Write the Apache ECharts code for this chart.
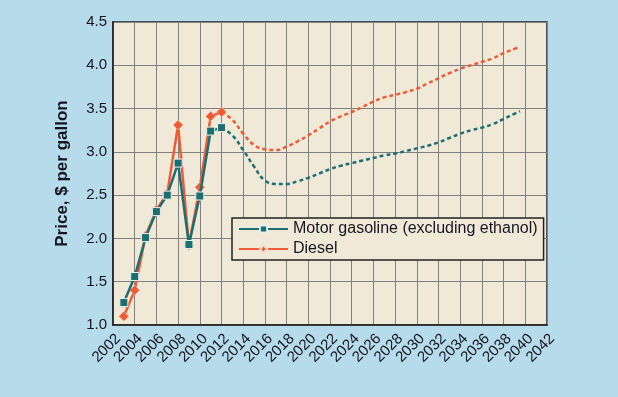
<!DOCTYPE html>
<html><head><meta charset="utf-8">
<script src="https://cdn.jsdelivr.net/npm/echarts@6/dist/echarts.min.js"></script>
<style>html,body{margin:0;padding:0;background:#b6dbea;}#c{width:618px;height:397px;}</style>
</head><body><div id="c"></div>
<script>
var histYears = [2003,2004,2005,2006,2007,2008,2009,2010,2011,2012];
var gasHist = [1.26,1.56,2.01,2.31,2.50,2.87,1.93,2.49,3.24,3.28];
var dieselHist = [1.10,1.40,2.03,2.33,2.52,3.31,1.92,2.59,3.41,3.46];
var projYears = [2012,2013,2014,2015,2016,2017,2018,2019,2020,2021,2022,2023,2024,2025,2026,2027,2028,2029,2030,2031,2032,2033,2034,2035,2036,2037,2038,2039,2039.5];
var gasProj = [3.28,3.19,3.02,2.83,2.67,2.63,2.63,2.66,2.70,2.75,2.80,2.84,2.87,2.90,2.93,2.96,2.98,3.01,3.04,3.07,3.11,3.16,3.21,3.25,3.28,3.32,3.38,3.44,3.47];
var dieselProj = [3.46,3.37,3.21,3.08,3.03,3.02,3.06,3.12,3.19,3.27,3.35,3.41,3.46,3.52,3.58,3.63,3.66,3.69,3.73,3.79,3.85,3.91,3.96,4.00,4.04,4.08,4.14,4.19,4.22];
var seriesNames = ['Motor gasoline (excluding ethanol)','Diesel'];
var yTicks = {min:1.0, max:4.5, step:0.5};
var xTicks = {min:2002, max:2042, step:2};

function pairs(xs, ys){ return xs.map(function(x,i){ return [x, ys[i]]; }); }
var GAS = '#1b6f73', DSL = '#f05a35';
var font = 'Liberation Sans, Arial, sans-serif';
var chart = echarts.init(document.getElementById('c'));
chart.setOption({
  backgroundColor: '#b6dbea',
  animation: false,
  grid: {left:113, right:71, top:22, bottom:72, show:true, backgroundColor:'#f1e9d7', borderColor:'#222', borderWidth:1.5},
  legend: {
    data: seriesNames, orient:'vertical', left:232, top:218,
    backgroundColor:'#f1e9d7', borderColor:'#222', borderWidth:1.5,
    padding:[3,6,3,6], itemWidth:49, itemHeight:9, itemGap:4,
    textStyle:{fontFamily:font, fontSize:16, color:'#161622'}
  },
  xAxis: {
    type:'value', min:xTicks.min, max:xTicks.max, interval:xTicks.step,
    axisLine:{show:true, lineStyle:{color:'#222', width:1.5}},
    axisTick:{show:false},
    splitLine:{show:true, lineStyle:{color:'#808080', width:1}},
    axisLabel:{rotate:45, margin:6, verticalAlign:'top', fontFamily:font, fontSize:15, color:'#161622', formatter:function(v){return String(v);}}
  },
  yAxis: {
    type:'value', min:yTicks.min, max:yTicks.max, interval:yTicks.step,
    name:'Price, $ per gallon', nameLocation:'middle', nameGap:42,
    nameTextStyle:{fontFamily:font, fontSize:17, fontWeight:'bold', color:'#161622'},
    axisLine:{show:true, lineStyle:{color:'#222', width:1.5}},
    axisTick:{show:false},
    splitLine:{show:true, lineStyle:{color:'#808080', width:1}},
    axisLabel:{margin:6, fontFamily:font, fontSize:15, color:'#161622', formatter:function(v){return v.toFixed(1);}}
  },
  series: [
    {name:seriesNames[1]+' proj', type:'line', data:pairs(projYears, dieselProj), smooth:0.5, symbol:'none',
     lineStyle:{color:DSL, width:2.5, type:[4,3]}, z:2},
    {name:seriesNames[0]+' proj', type:'line', data:pairs(projYears, gasProj), smooth:0.5, symbol:'none',
     lineStyle:{color:GAS, width:2.5, type:[4,3]}, z:2},
    {name:seriesNames[1], type:'line', data:pairs(histYears, dieselHist), symbol:'diamond', symbolSize:10,
     lineStyle:{color:DSL, width:2.5}, itemStyle:{color:DSL, borderColor:'#f7d9c8', borderWidth:0.5}, z:3},
    {name:seriesNames[0], type:'line', data:pairs(histYears, gasHist), symbol:'rect', symbolSize:8,
     lineStyle:{color:GAS, width:2.5}, itemStyle:{color:GAS, borderColor:'#e8efe8', borderWidth:1}, z:4}
  ]
});
</script>
</body></html>
